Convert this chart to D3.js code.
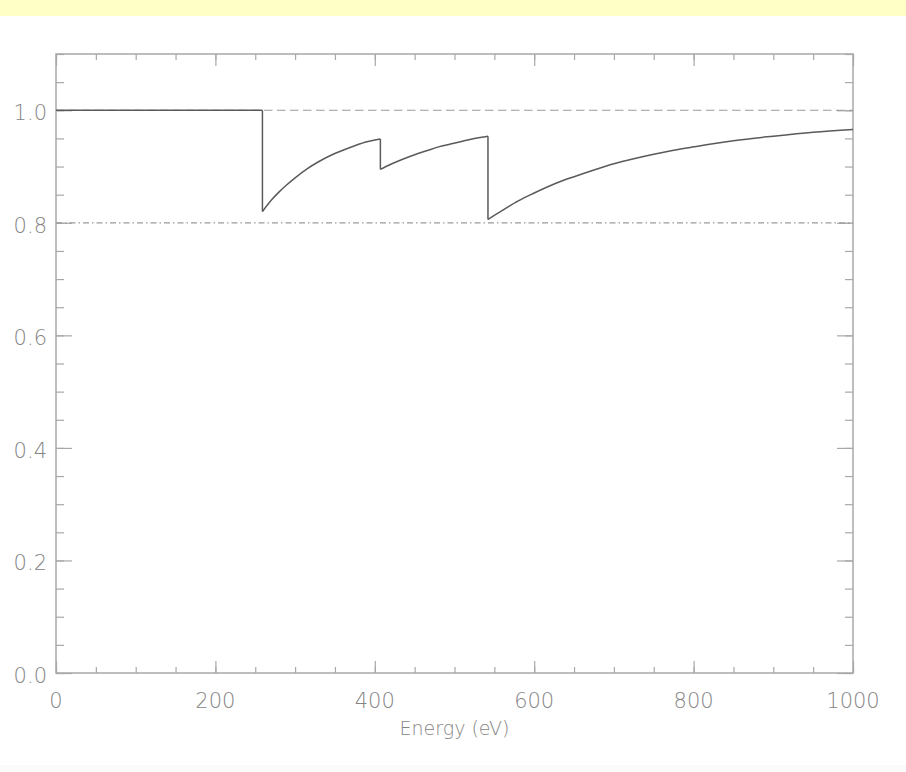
<!DOCTYPE html>
<html>
<head>
<meta charset="utf-8">
<script src="https://cdn.jsdelivr.net/npm/d3@7/dist/d3.min.js"></script>
<style>
  html, body { margin: 0; padding: 0; background: #fff; }
  svg { display: block; }
  .lbl { font-family: "DejaVu Sans ExtraLight", "DejaVu Sans", sans-serif; font-weight: 200; fill: #858585; }
</style>
</head>
<body>
<svg id="chart" width="906" height="772"></svg>
<script>
// Transmission vs photon energy, with three absorption edges.
// Each segment is listed from just after an edge up to the next edge.
const segment0 = [[0, 1.0], [259, 1.0]];
const segment1 = [[259, 0.820], [270, 0.840], [280, 0.855], [290, 0.868], [300, 0.880],
                  [315, 0.896], [330, 0.909], [345, 0.920], [360, 0.929], [375, 0.937],
                  [390, 0.944], [407, 0.949]];
const segment2 = [[407, 0.895], [420, 0.904], [435, 0.913], [450, 0.921], [465, 0.928],
                  [480, 0.935], [495, 0.940], [510, 0.945], [525, 0.950], [542, 0.954]];
const segment3 = [[542, 0.806], [560, 0.822], [580, 0.839], [600, 0.853], [625, 0.869],
                  [650, 0.882], [675, 0.894], [700, 0.905], [725, 0.914], [750, 0.922],
                  [775, 0.929], [800, 0.935], [850, 0.946], [900, 0.954], [950, 0.961],
                  [1000, 0.966]];
const referenceDashed = 1.0;
const referenceDashDot = 0.8;

const xDomain = [0, 1000];
const yDomain = [0, 1.1];
const xMajor = [0, 200, 400, 600, 800, 1000];
const xMinor = d3.range(0, 1001, 50);
const yMajor = [0.0, 0.2, 0.4, 0.6, 0.8, 1.0];
const yMinor = d3.range(0, 1.1001, 0.05).map(v => +v.toFixed(2));
const xTitle = "Energy (eV)";

const svg = d3.select("#chart");
const W = 906, H = 772;
const m = { left: 56, right: 53, top: 54, bottom: 99 };
const pw = W - m.left - m.right, ph = H - m.top - m.bottom;

// page tint strips
svg.append("rect").attr("x", 0).attr("y", 0).attr("width", W).attr("height", 16).attr("fill", "#ffffc6");
svg.append("rect").attr("x", 0).attr("y", 765).attr("width", W).attr("height", 7).attr("fill", "#fbfbfb");

const x = d3.scaleLinear().domain(xDomain).range([m.left, m.left + pw]);
const y = d3.scaleLinear().domain(yDomain).range([m.top + ph, m.top]);

const g = svg.append("g");
const axisColor = "#a8a8a8";

function styleAxis(sel) {
  sel.select(".domain").remove();
  sel.selectAll(".tick line").attr("stroke", axisColor).attr("stroke-width", 1.2);
  sel.selectAll(".tick text").remove();
}

// minor and major ticks, pointing inward on all four sides
g.append("g").attr("transform", `translate(0,${y(0)})`)
  .call(d3.axisBottom(x).tickValues(xMinor).tickSize(-6)).call(styleAxis);
g.append("g").attr("transform", `translate(0,${y(0)})`)
  .call(d3.axisBottom(x).tickValues(xMajor).tickSize(-12)).call(styleAxis);
g.append("g").attr("transform", `translate(0,${y(1.1)})`)
  .call(d3.axisTop(x).tickValues(xMinor).tickSize(-6)).call(styleAxis);
g.append("g").attr("transform", `translate(0,${y(1.1)})`)
  .call(d3.axisTop(x).tickValues(xMajor).tickSize(-12)).call(styleAxis);
g.append("g").attr("transform", `translate(${x(0)},0)`)
  .call(d3.axisLeft(y).tickValues(yMinor).tickSize(-8)).call(styleAxis);
g.append("g").attr("transform", `translate(${x(0)},0)`)
  .call(d3.axisLeft(y).tickValues(yMajor).tickSize(-16)).call(styleAxis);
g.append("g").attr("transform", `translate(${x(1000)},0)`)
  .call(d3.axisRight(y).tickValues(yMinor).tickSize(-8)).call(styleAxis);
g.append("g").attr("transform", `translate(${x(1000)},0)`)
  .call(d3.axisRight(y).tickValues(yMajor).tickSize(-16)).call(styleAxis);

// frame
g.append("rect")
  .attr("x", x(0)).attr("y", y(1.1))
  .attr("width", x(1000) - x(0)).attr("height", y(0) - y(1.1))
  .attr("fill", "none").attr("stroke", axisColor).attr("stroke-width", 1.5);

// tick labels
g.selectAll("text.xl").data(xMajor).join("text")
  .attr("class", "lbl xl")
  .attr("x", d => x(d)).attr("y", y(0) + 35)
  .attr("text-anchor", "middle").attr("font-size", 21)
  .text(d => d3.format("d")(d));
g.selectAll("text.yl").data(yMajor).join("text")
  .attr("class", "lbl yl")
  .attr("x", x(0) - 9).attr("y", d => y(d) + 10)
  .attr("text-anchor", "end").attr("font-size", 21)
  .text(d => d3.format(".1f")(d));

g.append("text").attr("class", "lbl")
  .attr("x", (x(0) + x(1000)) / 2).attr("y", 735)
  .attr("text-anchor", "middle").attr("font-size", 19)
  .text(xTitle);

// reference levels
g.append("line")
  .attr("x1", x(0)).attr("x2", x(1000))
  .attr("y1", y(referenceDashed)).attr("y2", y(referenceDashed))
  .attr("stroke", "#9a9a9a").attr("stroke-width", 1.2).attr("stroke-dasharray", "8.5,4.5");
g.append("line")
  .attr("x1", x(0)).attr("x2", x(1000))
  .attr("y1", y(referenceDashDot)).attr("y2", y(referenceDashDot))
  .attr("stroke", "#9a9a9a").attr("stroke-width", 1.2).attr("stroke-dasharray", "6,3,1.5,3");

// transmission curve
const line = d3.line().x(d => x(d[0])).y(d => y(d[1])).curve(d3.curveMonotoneX);
const lineLinear = d3.line().x(d => x(d[0])).y(d => y(d[1]));
[segment0, segment1, segment2, segment3].forEach(seg => {
  g.append("path").datum(seg).attr("d", line)
    .attr("fill", "none").attr("stroke", "#5a5a5a").attr("stroke-width", 1.5);
});
// vertical drops at the edges
const drops = [[segment0[segment0.length - 1], segment1[0]],
               [segment1[segment1.length - 1], segment2[0]],
               [segment2[segment2.length - 1], segment3[0]]];
drops.forEach(dp => {
  g.append("path").datum(dp).attr("d", lineLinear)
    .attr("fill", "none").attr("stroke", "#5a5a5a").attr("stroke-width", 1.5);
});
</script>
</body>
</html>
